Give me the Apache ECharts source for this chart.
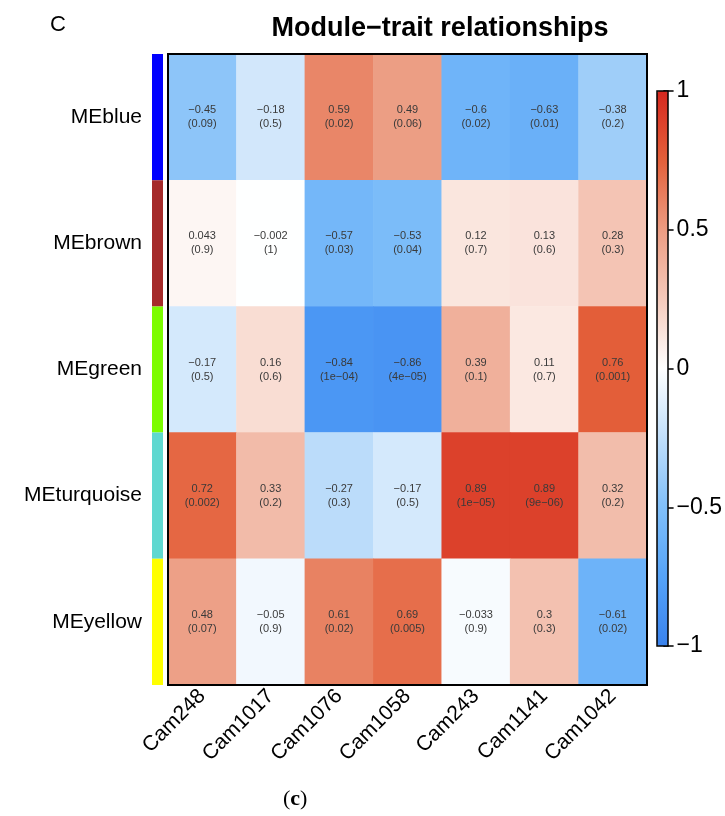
<!DOCTYPE html>
<html><head><meta charset="utf-8">
<script src="https://cdn.jsdelivr.net/npm/echarts@6/dist/echarts.min.js"></script>
<style>html,body{margin:0;padding:0;background:#fff}#c{width:725px;height:816px}</style>
</head><body><div id="c"></div>
<script>
// Module eigengene vs. trait correlations (WGCNA style)
const traits = ['Cam248', 'Cam1017', 'Cam1076', 'Cam1058', 'Cam243', 'Cam1141', 'Cam1042'];
const modules = ['MEblue', 'MEbrown', 'MEgreen', 'MEturquoise', 'MEyellow'];
const moduleColors = ['#0000ff', '#a52a2a', '#7cfc00', '#5fd8d0', '#ffff00'];

const corBlue = [-0.45, -0.18, 0.59, 0.49, -0.6, -0.63, -0.38];
const pBlue = ['0.09', '0.5', '0.02', '0.06', '0.02', '0.01', '0.2'];
const corBrown = [0.043, -0.002, -0.57, -0.53, 0.12, 0.13, 0.28];
const pBrown = ['0.9', '1', '0.03', '0.04', '0.7', '0.6', '0.3'];
const corGreen = [-0.17, 0.16, -0.84, -0.86, 0.39, 0.11, 0.76];
const pGreen = ['0.5', '0.6', '1e-04', '4e-05', '0.1', '0.7', '0.001'];
const corTurquoise = [0.72, 0.33, -0.27, -0.17, 0.89, 0.89, 0.32];
const pTurquoise = ['0.002', '0.2', '0.3', '0.5', '1e-05', '9e-06', '0.2'];
const corYellow = [0.48, -0.05, 0.61, 0.69, -0.033, 0.3, -0.61];
const pYellow = ['0.07', '0.9', '0.02', '0.005', '0.9', '0.3', '0.02'];

const colorbarMin = -1;
const colorbarMax = 1;
const colorbarStep = 0.5;

const corRows = [corBlue, corBrown, corGreen, corTurquoise, corYellow];
const pRows = [pBlue, pBrown, pGreen, pTurquoise, pYellow];

const minus = s => String(s).replace(/-/g, '\u2212');

const cells = [];
corRows.forEach((row, r) => {
  row.forEach((v, c) => cells.push([c, r, v, pRows[r][c]]));
});

// layout
const G = { left: 168, top: 54, width: 479, height: 631 };
const STRIP = { left: 152, width: 11 };
const BAR = { left: 657, top: 91, width: 11, height: 555 };
const FONT = '"Liberation Sans", Arial, sans-serif';

const chart = echarts.init(document.getElementById('c'), null, { renderer: 'canvas' });
chart.setOption({
  backgroundColor: '#fff',
  animation: false,
  title: {
    text: 'Module\u2212trait relationships',
    left: 435, top: 10, textAlign: 'center',
    textStyle: { fontFamily: FONT, fontSize: 27, fontWeight: 'bold', color: '#000' }
  },
  grid: [
    { left: G.left, top: G.top, width: G.width, height: G.height },
    { left: STRIP.left, top: G.top, width: STRIP.width, height: G.height },
    { left: BAR.left, top: BAR.top, width: BAR.width, height: BAR.height }
  ],
  xAxis: [
    {
      type: 'category', data: traits, gridIndex: 0, position: 'bottom',
      axisLine: { show: false }, axisTick: { show: false }, splitLine: { show: false },
      axisLabel: { rotate: 45, margin: 8, fontFamily: FONT, fontSize: 21, color: '#000', interval: 0 }
    },
    { type: 'value', gridIndex: 1, min: 0, max: 1, show: false },
    { type: 'value', gridIndex: 2, min: 0, max: 1, show: false }
  ],
  yAxis: [
    {
      type: 'category', data: modules, gridIndex: 0, inverse: true,
      axisLine: { show: false }, axisTick: { show: false }, splitLine: { show: false },
      axisLabel: { margin: 26, fontFamily: FONT, fontSize: 21, color: '#000' }
    },
    { type: 'category', data: modules, gridIndex: 1, inverse: true, show: false },
    {
      type: 'value', gridIndex: 2, position: 'right',
      min: colorbarMin, max: colorbarMax, interval: colorbarStep,
      axisLine: { show: true, onZero: false, lineStyle: { color: '#000', width: 1.5 } },
      axisTick: { show: true, inside: false, length: 10, lineStyle: { color: '#000', width: 1.5 } },
      splitLine: { show: false },
      axisLabel: { margin: 13, fontFamily: FONT, fontSize: 23, color: '#000', formatter: v => minus(v) }
    }
  ],
  visualMap: {
    type: 'continuous', seriesIndex: 0, dimension: 2,
    min: colorbarMin, max: colorbarMax,
    left: BAR.left, top: BAR.top, itemWidth: BAR.width, itemHeight: BAR.height,
    padding: 0, calculable: false, text: null, showLabel: false,
    inRange: {
      color: ['#3a82ec', '#55a3f8', '#80bff9', '#c0defa', '#ffffff',
              '#f5cabb', '#ec9c82', '#e4603a', '#d6281f']
    }
  },
  series: [
    {
      type: 'heatmap', xAxisIndex: 0, yAxisIndex: 0, data: cells,
      itemStyle: { borderWidth: 0 },
      label: {
        show: true, fontFamily: FONT, fontSize: 11, color: '#3a3a3a', lineHeight: 14,
        formatter: p => minus(p.data[2]) + '\n(' + minus(p.data[3]) + ')'
      },
      emphasis: { disabled: true }
    },
    {
      type: 'bar', xAxisIndex: 1, yAxisIndex: 1, barWidth: '100%', barCategoryGap: 0,
      data: modules.map((m, i) => ({ value: 1, itemStyle: { color: moduleColors[i] } })),
      silent: true
    }
  ],
  graphic: [
    {
      type: 'rect', z: 100, silent: true,
      shape: { x: G.left, y: G.top, width: G.width, height: G.height },
      style: { fill: 'none', stroke: '#000', lineWidth: 2 }
    },
    {
      type: 'rect', z: 100, silent: true,
      shape: { x: BAR.left, y: BAR.top, width: BAR.width, height: BAR.height },
      style: { fill: 'none', stroke: '#000', lineWidth: 1.5 }
    },
    {
      type: 'text', left: 50, top: 14,
      style: { text: 'C', font: '22px ' + FONT, fill: '#000' }
    },
    {
      type: 'text', left: 283, top: 788,
      style: {
        text: '({b|c})',
        font: '22px "Liberation Serif", serif', fill: '#000',
        rich: { b: { font: 'bold 22px "Liberation Serif", serif', fill: '#000' } }
      }
    }
  ]
});
</script>
</body></html>
